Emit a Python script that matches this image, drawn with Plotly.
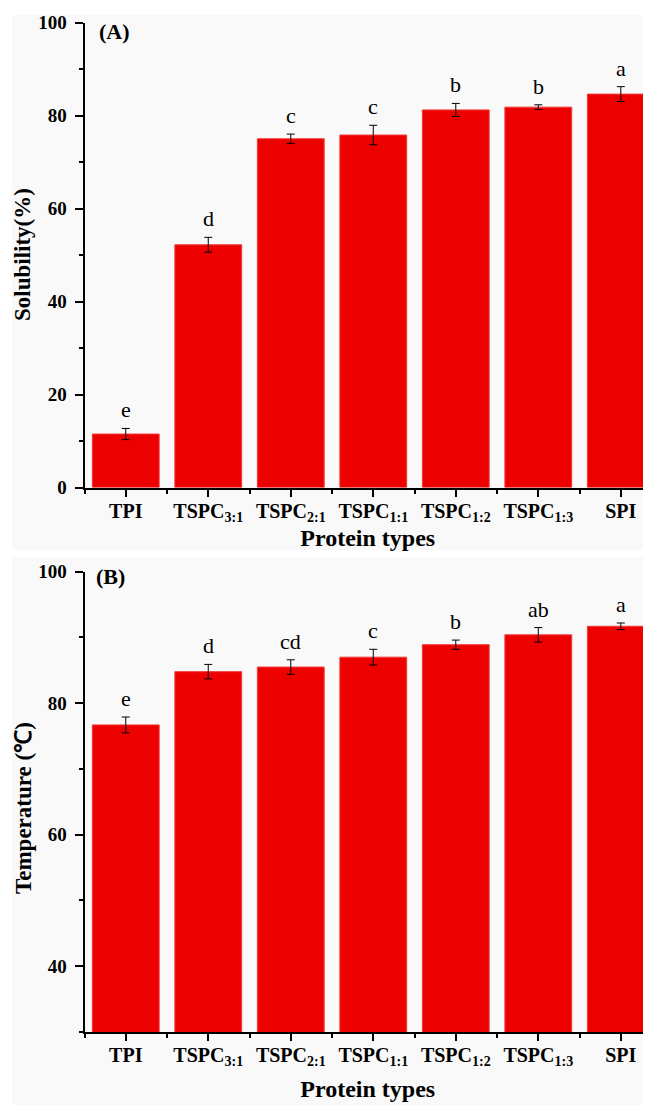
import plotly.graph_objects as go

# The page body has an 8px margin, so the figure is drawn 8px right/down.
OFF = 8
W, H = 651 - OFF, 1105 - OFF

categories = ["TPI", "TSPC<sub>3:1</sub>", "TSPC<sub>2:1</sub>", "TSPC<sub>1:1</sub>",
              "TSPC<sub>1:2</sub>", "TSPC<sub>1:3</sub>", "SPI"]
solubility = [11.5, 52.2, 75.0, 75.8, 81.2, 81.8, 84.6]
solubility_err = [1.2, 1.6, 1.0, 2.1, 1.4, 0.5, 1.6]
solubility_letters = ["e", "d", "c", "c", "b", "b", "a"]
temperature = [76.7, 84.8, 85.5, 87.0, 88.9, 90.4, 91.7]
temperature_err = [1.2, 1.1, 1.1, 1.2, 0.7, 1.1, 0.5]
temperature_letters = ["e", "d", "cd", "c", "b", "ab", "a"]
sol_ticks = [0, 20, 40, 60, 80, 100]
temp_ticks = [40, 60, 80, 100]

x_idx = list(range(len(categories)))
SERIF = "Liberation Serif, Times New Roman, serif"
RED = "#ec0000"


def px_x(p):
    return (p - OFF) / W


def px_y(p):
    return 1 - (p - OFF) / H


fig = go.Figure()

for vals, errs, xa, ya in [(solubility, solubility_err, "x", "y"),
                           (temperature, temperature_err, "x2", "y2")]:
    fig.add_trace(go.Bar(
        x=x_idx, y=vals, width=0.81, xaxis=xa, yaxis=ya,
        marker=dict(color=RED, line=dict(color="#f23a3a", width=1)),
        error_y=dict(type="data", array=errs, color="black", thickness=1, width=4),
        showlegend=False,
    ))

xdom = [px_x(84.5), 1]
common_x = dict(
    range=[-0.5, 6.366], tickmode="array", tickvals=x_idx, ticktext=categories,
    showline=True, linecolor="black", linewidth=2, ticks="outside", ticklen=7,
    tickwidth=2, tickcolor="black", showgrid=False, zeroline=False,
    tickfont=dict(family=SERIF, size=20, color="black", weight="bold"),
    ticklabelstandoff=-3,
    minor=dict(tickvals=[-0.5, 0.5, 1.5, 2.5, 3.5, 4.5, 5.5], ticklen=4, tickwidth=2,
               tickcolor="black", ticks="outside", showgrid=False),
    automargin=False, domain=xdom,
)
title_font = dict(family=SERIF, size=24, color="black", weight="bold")
common_y = dict(
    showline=True, linecolor="black", linewidth=2, ticks="outside", ticklen=8,
    tickwidth=2, tickcolor="black", showgrid=False, zeroline=False,
    tickfont=dict(family=SERIF, size=19, color="black", weight="bold"),
    ticklabelstandoff=4, automargin=False,
)

fig.update_layout(
    width=W, height=H,
    margin=dict(l=0, r=0, t=0, b=0),
    paper_bgcolor="white", plot_bgcolor="rgba(0,0,0,0)",
    bargap=0.19,
    xaxis=dict(common_x, anchor="y",
               title=dict(text="Protein types", font=title_font, standoff=2)),
    yaxis=dict(common_y, range=[0, 100], tickvals=sol_ticks,
               minor=dict(dtick=10, tick0=0, ticklen=4, tickwidth=2, tickcolor="black",
                          ticks="outside", showgrid=False),
               domain=[px_y(487.5), px_y(22.5)], anchor="x"),
    xaxis2=dict(common_x, anchor="y2",
                title=dict(text="Protein types", font=title_font, standoff=12)),
    yaxis2=dict(common_y, range=[30, 100], tickvals=temp_ticks,
                minor=dict(dtick=10, tick0=0, ticklen=4, tickwidth=2, tickcolor="black",
                           ticks="outside", showgrid=False),
                domain=[px_y(1032), px_y(571.7)], anchor="x2"),
    shapes=[
        dict(type="rect", xref="paper", yref="paper", x0=px_x(12), x1=1,
             y0=px_y(550), y1=px_y(15), fillcolor="#f9f9f9", line=dict(width=0), layer="below"),
        dict(type="rect", xref="paper", yref="paper", x0=px_x(12), x1=1,
             y0=0, y1=px_y(557), fillcolor="#f9f9f9", line=dict(width=0), layer="below"),
    ],
)

annotations = []
for vals, errs, letters, xr, yr in [(solubility, solubility_err, solubility_letters, "x", "y"),
                                    (temperature, temperature_err, temperature_letters, "x2", "y2")]:
    for i, (v, e, l) in enumerate(zip(vals, errs, letters)):
        annotations.append(dict(x=i, y=v + e, xref=xr, yref=yr, text=l, showarrow=False,
                                yanchor="bottom", yshift=4,
                                font=dict(family=SERIF, size=22, color="black")))

annotations += [
    dict(x=px_x(97), y=px_y(31), xref="paper", yref="paper", text="<b>(A)</b>",
         showarrow=False, xanchor="left", yanchor="middle",
         font=dict(family=SERIF, size=22, color="black")),
    dict(x=px_x(94), y=px_y(576), xref="paper", yref="paper", text="<b>(B)</b>",
         showarrow=False, xanchor="left", yanchor="middle",
         font=dict(family=SERIF, size=22, color="black")),
    dict(x=px_x(23), y=px_y(255), xref="paper", yref="paper", text="<b>Solubility(%)</b>",
         showarrow=False, textangle=-90, xanchor="center", yanchor="middle",
         font=dict(family=SERIF, size=23, color="black")),
    dict(x=px_x(23), y=px_y(808), xref="paper", yref="paper", text="<b>Temperature (℃)</b>",
         showarrow=False, textangle=-90, xanchor="center", yanchor="middle",
         font=dict(family=SERIF, size=23, color="black")),
]
fig.update_layout(annotations=annotations)

fig.write_html("out.html")
